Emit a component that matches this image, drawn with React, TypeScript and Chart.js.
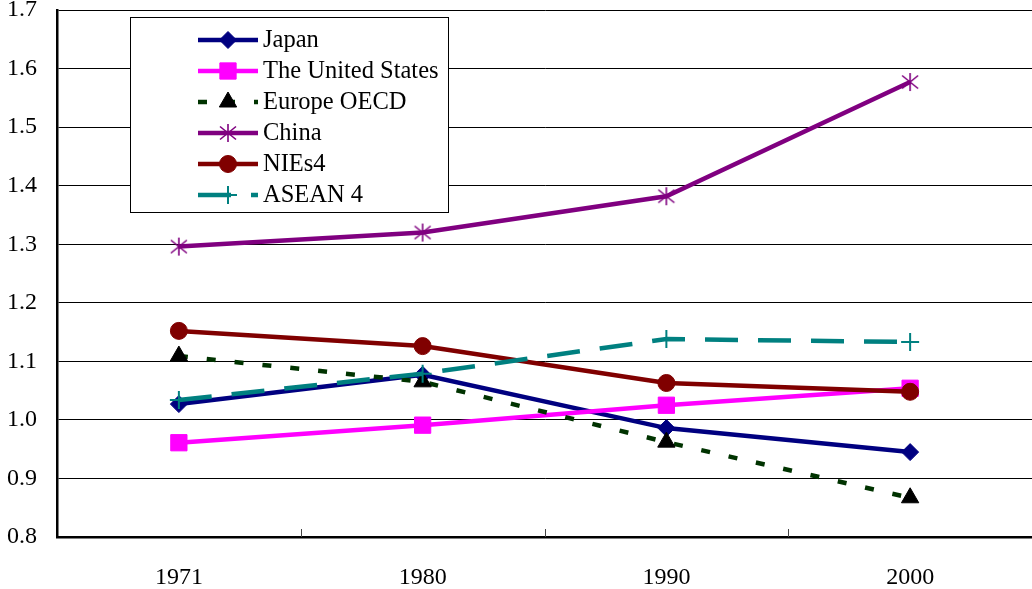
import React, { useEffect, useRef } from "react";
import { Chart, registerables } from "chart.js";
import { drawPoint } from "chart.js/helpers";

Chart.register(...registerables);

const years = ["1971", "1980", "1990", "2000"];
const seriesNames = ["Japan", "The United States", "Europe OECD", "China", "NIEs4", "ASEAN 4"];
const japan = [1.027, 1.077, 0.986, 0.945];
const unitedStates = [0.961, 0.991, 1.025, 1.054];
const europeOECD = [1.109, 1.065, 0.962, 0.867];
const china = [1.296, 1.32, 1.382, 1.577];
const nies4 = [1.152, 1.126, 1.063, 1.048];
const asean4 = [1.034, 1.079, 1.138, 1.133];

const yMin = 0.8;
const yMax = 1.7;
const yStep = 0.1;

const SERIF = "'Liberation Serif', 'Times New Roman', serif";

// Six-spoke asterisk marker (vertical stroke plus two diagonals)
function makeAsterisk(color: string): HTMLCanvasElement {
  const c = document.createElement("canvas");
  c.width = 20;
  c.height = 20;
  const g = c.getContext("2d")!;
  g.strokeStyle = color;
  g.lineWidth = 1.6;
  g.beginPath();
  g.moveTo(10, 1);
  g.lineTo(10, 19);
  g.moveTo(2, 3.5);
  g.lineTo(18, 16.5);
  g.moveTo(18, 3.5);
  g.lineTo(2, 16.5);
  g.stroke();
  return c;
}

// Small tick marks rising from the category axis at category boundaries
const innerTicks = {
  id: "innerTicks",
  beforeDatasetsDraw(chart: any) {
    const x = chart.scales.x;
    const { ctx } = chart;
    const n = x.ticks.length;
    const step = (x.right - x.left) / n;
    ctx.save();
    ctx.strokeStyle = "#444";
    ctx.lineWidth = 1;
    for (let i = 1; i < n; i++) {
      const px = Math.round(x.left + i * step) + 0.5;
      ctx.beginPath();
      ctx.moveTo(px, x.top);
      ctx.lineTo(px, x.top - 8);
      ctx.stroke();
    }
    ctx.restore();
  },
};

// Boxed legend in the upper-left of the plot
const boxedLegend = {
  id: "boxedLegend",
  afterDraw(chart: any) {
    const { ctx } = chart;
    const bx = 130, by = 17, bw = 318, bh = 195;
    ctx.save();
    ctx.fillStyle = "#fff";
    ctx.fillRect(bx, by, bw, bh);
    ctx.strokeStyle = "#000";
    ctx.lineWidth = 1;
    ctx.strokeRect(bx + 0.5, by + 0.5, bw, bh);
    chart.data.datasets.forEach((ds: any, i: number) => {
      const y = 40 + i * 31;
      ctx.save();
      ctx.strokeStyle = ds.borderColor;
      ctx.lineWidth = ds.borderWidth;
      ctx.setLineDash(ds.borderDash || []);
      ctx.beginPath();
      ctx.moveTo(198, y);
      ctx.lineTo(258, y);
      ctx.stroke();
      ctx.restore();
      ctx.save();
      ctx.fillStyle = ds.pointBackgroundColor;
      ctx.strokeStyle = ds.pointBorderColor;
      ctx.lineWidth = ds.pointBorderWidth;
      drawPoint(ctx, { pointStyle: ds.pointStyle, radius: ds.pointRadius, rotation: 0, borderWidth: ds.pointBorderWidth }, 228, y);
      ctx.restore();
      ctx.fillStyle = "#000";
      ctx.font = `24.5px ${SERIF}`;
      ctx.textBaseline = "middle";
      ctx.textAlign = "left";
      ctx.fillText(ds.label, 263, y + 1);
    });
    ctx.restore();
  },
};

export default function App() {
  const ref = useRef<HTMLCanvasElement | null>(null);

  useEffect(() => {
    document.body.style.margin = "0";
    const canvas = ref.current;
    if (!canvas) return;

    const mk = (
      i: number,
      data: number[],
      color: string,
      pointStyle: any,
      radius: number,
      extra: any = {}
    ) => ({
      label: seriesNames[i],
      data,
      borderColor: color,
      backgroundColor: color,
      borderWidth: 4.5,
      pointStyle,
      pointRadius: radius,
      pointHoverRadius: radius,
      pointBackgroundColor: color,
      pointBorderColor: color,
      pointBorderWidth: 1,
      tension: 0,
      clip: false,
      order: 5 - i,
      ...extra,
    });

    const chart = new Chart(canvas, {
      type: "line",
      data: {
        labels: years,
        datasets: [
          mk(0, japan, "#000080", "rectRot", 8.5),
          mk(1, unitedStates, "#FF00FF", "rect", 11.5),
          mk(2, europeOECD, "#003300", "triangle", 10, {
            borderDash: [9, 19],
            pointBackgroundColor: "#000",
            pointBorderColor: "#000",
          }),
          mk(3, china, "#800080", makeAsterisk("#800080"), 9),
          mk(4, nies4, "#800000", "circle", 8.5),
          mk(5, asean4, "#008080", "cross", 9, {
            borderDash: [33, 20],
            pointBorderWidth: 2,
          }),
        ] as any,
      },
      options: {
        responsive: false,
        animation: false,
        events: [],
        layout: { autoPadding: false, padding: { top: 10, right: 0, left: 0, bottom: 0 } },
        plugins: {
          legend: { display: false },
          tooltip: { enabled: false },
          title: { display: false },
        },
        scales: {
          x: {
            offset: true,
            grid: { display: false, drawTicks: false },
            border: { display: true, color: "#000", width: 2.5 },
            ticks: {
              color: "#000",
              font: { family: SERIF, size: 24 },
              padding: 26,
              maxRotation: 0,
            },
            afterFit: (s: any) => {
              s.height = 52;
              s.paddingLeft = 0;
              s.paddingRight = 0;
            },
          },
          y: {
            min: yMin,
            max: yMax,
            grid: { color: "#000", lineWidth: 1, drawTicks: false },
            border: { display: true, color: "#000", width: 2.5 },
            ticks: {
              stepSize: yStep,
              color: "#000",
              font: { family: SERIF, size: 24 },
              padding: 20,
              callback: (v: any) => Number(v).toFixed(1),
            },
            afterFit: (s: any) => {
              s.width = 57;
              s.paddingTop = 0;
              s.paddingBottom = 0;
            },
          },
        },
      },
      plugins: [innerTicks, boxedLegend],
    });

    return () => chart.destroy();
  }, []);

  return (
    <div style={{ position: "absolute", left: 0, top: 0, width: 1032, height: 589, background: "#fff" }}>
      <canvas ref={ref} width={1032} height={589} style={{ display: "block" }} />
    </div>
  );
}
